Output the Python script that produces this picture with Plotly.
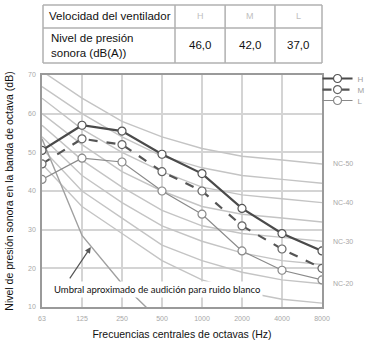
import plotly.graph_objects as go

# octave band centre frequencies (Hz)
freqs = ["63", "125", "250", "500", "1000", "2000", "4000", "8000"]

# measured sound pressure level per fan speed (dB)
spl_h = [50.5, 57, 55.5, 49.5, 44.5, 35.5, 29, 24.5]
spl_m = [47, 53.5, 52, 45, 40, 31, 25, 20]
spl_l = [43, 48.5, 47.5, 40, 34, 24.5, 19.5, 17]

# NC reference curves
nc_curves = {
    15: [47, 36, 29, 22, 17, 14, 12, 11],
    20: [51, 40, 33, 26, 22, 19, 17, 16],
    25: [54, 44, 37, 31, 27, 24, 22, 21],
    30: [57, 48, 41, 35, 31, 29, 28, 27],
    35: [60, 52, 45, 40, 36, 34, 33, 32],
    40: [64, 56, 50, 45, 41, 39, 38, 37],
    45: [67, 60, 54, 49, 46, 44, 43, 42],
    50: [71, 64, 58, 54, 51, 49, 48, 47],
}
nc_labelled = [50, 40, 30, 20]

# approximate hearing threshold for white noise
threshold = [53.5, 28.5, 16, 6]

# table at the top
table_head = "Velocidad del ventilador"
table_row = "Nivel de presión<br>sonora (dB(A))"
speeds = ["H", "M", "L"]
spl_dba = ["46,0", "42,0", "37,0"]

GRID = "#d4d4d4"
TICK = dict(family="Liberation Sans", size=7, color="#a8a8a8")
TXT = dict(family="Liberation Sans", size=11.5, color="#111")

fig = go.Figure()

for nc, vals in nc_curves.items():
    fig.add_trace(go.Scatter(
        x=freqs, y=vals, mode="lines",
        line=dict(color="#c4c4c4", width=1.4),
        showlegend=False, hoverinfo="skip",
    ))

fig.add_trace(go.Scatter(
    x=freqs[:len(threshold)], y=threshold, mode="lines",
    line=dict(color="#a0a0a0", width=1.4),
    showlegend=False, hoverinfo="skip",
))

series = [
    ("H", spl_h, dict(color="#4a4a4a", width=2.2), "#555", "legend"),
    ("M", spl_m, dict(color="#555555", width=2.2, dash="dash"), "#666", "legend2"),
    ("L", spl_l, dict(color="#8a8a8a", width=1.2), "#888", "legend3"),
]
for name, vals, line, mcol, leg in series:
    fig.add_trace(go.Scatter(
        x=freqs, y=vals, name=name, mode="lines+markers",
        line=line, legend=leg,
        marker=dict(symbol="circle", size=8, color="white", line=dict(color=mcol, width=1.2)),
    ))

# table drawn above the plot (paper coords, y > 1)
col_x = [0.0036, 0.475, 0.654, 0.832, 1.0]
row_y = [1.302, 1.203, 1.052]
TLINE = dict(color="#b0b0b0", width=1.5)
for xv in col_x:
    fig.add_shape(type="line", xref="paper", yref="paper", x0=xv, x1=xv,
                  y0=row_y[-1], y1=row_y[0], line=TLINE)
for yv in row_y:
    fig.add_shape(type="line", xref="paper", yref="paper", x0=col_x[0], x1=col_x[-1],
                  y0=yv, y1=yv, line=TLINE)

mid_head = (row_y[0] + row_y[1]) / 2
mid_row = (row_y[1] + row_y[2]) / 2
fig.add_annotation(x=col_x[0], y=mid_head, xref="paper", yref="paper", text=table_head,
                   showarrow=False, xanchor="left", yanchor="middle", xshift=4, font=TXT)
fig.add_annotation(x=col_x[0], y=mid_row, xref="paper", yref="paper", text=table_row,
                   showarrow=False, xanchor="left", yanchor="middle", xshift=6,
                   align="left", font=TXT)
for i, (s, v) in enumerate(zip(speeds, spl_dba)):
    xc = (col_x[i + 1] + col_x[i + 2]) / 2
    fig.add_annotation(x=xc, y=mid_head, xref="paper", yref="paper", text=s,
                       showarrow=False, xanchor="center", yanchor="middle",
                       font=dict(TXT, size=9, color="#c0c0c0"))
    fig.add_annotation(x=xc, y=mid_row, xref="paper", yref="paper", text=v,
                       showarrow=False, xanchor="center", yanchor="middle", font=TXT)

for nc in nc_labelled:
    fig.add_annotation(
        x=1, xref="paper", y=nc_curves[nc][-1], yref="y",
        text=f"NC-{nc}", showarrow=False, xanchor="left", yanchor="middle", xshift=9,
        font=TICK,
    )

fig.add_annotation(
    x=1.22, y=25.5, ax=0.67, ay=17, xref="x", yref="y", axref="x", ayref="y",
    text="", showarrow=True, arrowhead=2, arrowsize=1, arrowwidth=1.2,
    arrowcolor="#555",
)
fig.add_annotation(
    x=0.41, xref="paper", y=14.4, yref="y",
    text="Umbral aproximado de audición para ruido blanco",
    showarrow=False, bgcolor="white", borderpad=2,
    font=dict(family="Lato", size=9.5, color="#111"),
)

fig.update_xaxes(
    type="category", range=[0, 7],
    showgrid=True, gridcolor=GRID, gridwidth=1.5,
    showline=True, mirror=True, linecolor="#9a9a9a", linewidth=1.5,
    tickfont=TICK, ticks="outside", ticklen=4, tickcolor="rgba(0,0,0,0)",
    title=dict(text="Frecuencias centrales de octavas (Hz)", standoff=9,
               font=dict(family="Liberation Sans", size=10.5, color="#111")),
)
fig.update_yaxes(
    range=[10, 70], dtick=10,
    showgrid=True, gridcolor=GRID, gridwidth=1.5, zeroline=False,
    showline=True, mirror=True, linecolor="#9a9a9a", linewidth=1.5,
    tickfont=TICK, ticks="outside", ticklen=3, tickcolor="rgba(0,0,0,0)",
    title=dict(text="Nivel de presión sonora en la banda de octava (dB)", standoff=12,
               font=dict(family="Liberation Sans", size=10.5, color="#111")),
)

_leg = dict(x=0.984, xanchor="left", yanchor="middle", bgcolor="rgba(0,0,0,0)",
            font=dict(family="Liberation Sans", size=8, color="#a0a0a0"), itemwidth=30)
fig.update_layout(
    width=365, height=344,
    paper_bgcolor="white", plot_bgcolor="white",
    margin=dict(l=42, r=43, t=75, b=37, autoexpand=False),
    showlegend=True,
    legend={**_leg, "y": 0.985},
    legend2={**_leg, "y": 0.937},
    legend3={**_leg, "y": 0.890},
)

# browser default body margin would shift the figure; drop it
fig.write_html("out.html", config={"displayModeBar": False},
               post_script="document.body.style.margin='0';")
